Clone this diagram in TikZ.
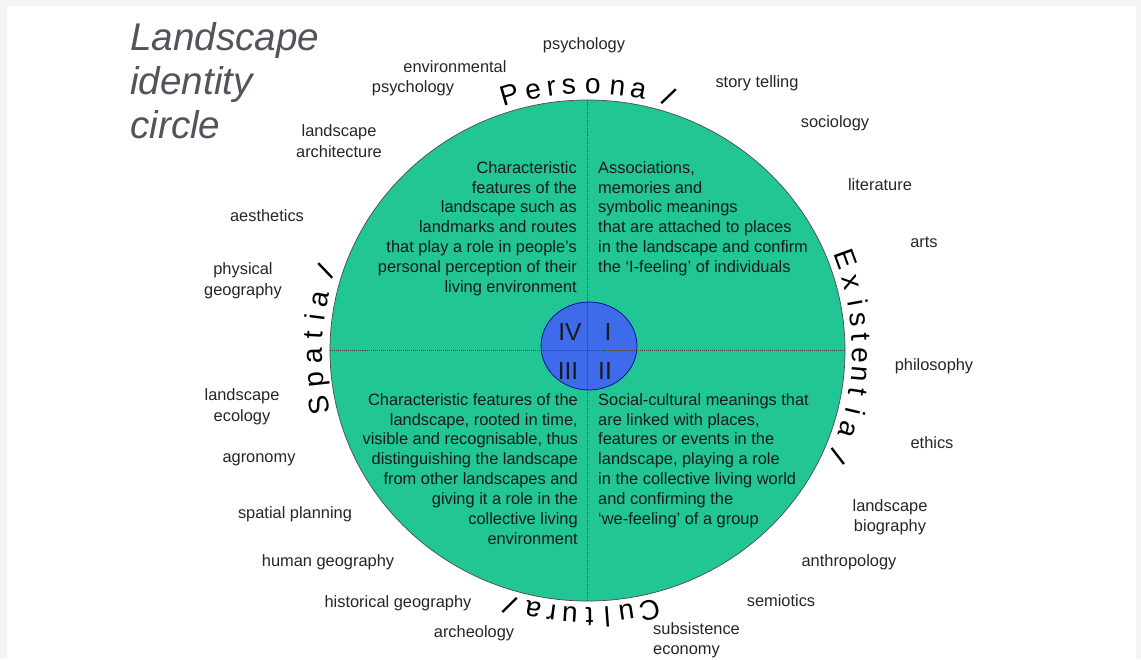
\documentclass[tikz,border=0pt]{standalone}
\usepackage{fontspec}
\setmainfont{Liberation Sans}
\usetikzlibrary{calc,shapes.geometric}
\definecolor{pagegray}{RGB}{244,244,242}
\definecolor{discgreen}{RGB}{34,197,148}
\definecolor{hubblue}{RGB}{61,107,234}
\definecolor{titlegray}{RGB}{82,84,92}

\tikzset{
  title/.style={font=\fontsize{33}{37.6}\selectfont\itshape, text=titlegray, inner sep=0pt, align=left},
  topic/.style={font=\fontsize{14}{17.5}\selectfont, text=black!85, inner sep=0pt, align=center},
  quadtext/.style={font=\fontsize{14}{17}\selectfont, text=black!90, inner sep=0pt},
  arcletter/.style={font=\fontsize{24}{24}\selectfont, anchor=base, inner sep=0pt},
  numeral/.style={font=\fontsize{21}{21}\selectfont, text=black!90, inner sep=0pt},
  disc/.style={ellipse, draw=black!70, line width=0.6pt, fill=discgreen, inner sep=0pt,
    minimum width=15.45cm, minimum height=15.03cm},
  hub/.style={ellipse, draw=blue!60!black, line width=0.6pt, fill=hubblue, inner sep=0pt,
    minimum width=2.88cm, minimum height=2.64cm},
  divider/.style={densely dotted, black!75, line width=0.7pt}
}

\begin{document}
\begin{tikzpicture}[x=0.03cm,y=0.03cm]
  \useasboundingbox (0,0) rectangle (1141,-659);
  %% ---- page ----
  \fill[pagegray] (0,0) rectangle (1141,-659);
  \fill[white] (7,-6) rectangle (1136,-659);

  %% ---- title ----
  \node[title, anchor=north west] (title) at (130,-22) {Landscape\\identity\\circle};

  %% ---- disc, hub and quadrant lines ----
  \coordinate (c) at (587.5,-350.5);
  \node[disc] (disc) at (c) {};
  \node[hub] (hub) at (589,-346) {};
  \draw[divider] (disc.north) -- (disc.south);
  \draw[divider] (disc.west) -- (disc.east);

  %% roman numerals
  \node[numeral] (nIV)  at (570,-332) {IV};
  \node[numeral] (nI)   at (608,-332) {I};
  \node[numeral] (nIII) at (568,-371) {III};
  \node[numeral] (nII)  at (605,-371) {II};

  %% ---- quadrant texts ----
  \node[quadtext, anchor=north east, align=right] (qIV) at (577,-161)
    {Characteristic\\features of the\\landscape such as\\landmarks and routes\\that play a role in people's\\personal perception of their\\living environment};
  \node[quadtext, anchor=north west, align=left] (qI) at (598,-161)
    {Associations,\\memories and\\symbolic meanings\\that are attached to places\\in the landscape and confirm\\the `I-feeling' of individuals};
  \node[quadtext, anchor=north east, align=right] (qIII) at (578,-393)
    {Characteristic features of the\\landscape, rooted in time,\\visible and recognisable, thus\\distinguishing the landscape\\from other landscapes and\\giving it a role in the\\collective living\\environment};
  \node[quadtext, anchor=north west, align=left] (qII) at (598,-393)
    {Social-cultural meanings that\\are linked with places,\\features or events in the\\landscape, playing a role\\in the collective living world\\and confirming the\\`we-feeling' of a group};

  %% ---- dimension names round the disc ----
  \foreach \ch/\a [count=\i] in {P/106.4,e/101.5,r/97.6,s/93.9,o/88.9,n/83.7,a/79.3}
    \node[arcletter, rotate=\a-90] (pers-\i) at ($(c)+(\a:265 and 257)$) {\ch};
  \node[arcletter, rotate=73.8-120] (pers-l) at ($(c)+(73.8:265 and 257)$) {l};

  \foreach \ch/\a [count=\i] in {E/20.0,x/14.9,i/10.3,s/6.7,t/2.9,e/-1.1,n/-5.1,t/-9.0,i/-13.3,a/-17.4}
    \node[arcletter, rotate=\a-90] (exis-\i) at ($(c)+(\a:265 and 257)$) {\ch};
  \node[arcletter, rotate=-22.4-120] (exis-l) at ($(c)+(-22.4:265 and 257)$) {l};

  \foreach \ch/\a [count=\i] in {C/283.1,u/278.2,l/274.1,t/270.4,u/266.3,r/262.4,a/258.5}
    \node[arcletter, rotate=\a-90] (cult-\i) at ($(c)+(\a:265 and 257)$) {\ch};
  \node[arcletter, rotate=254.7-120] (cult-l) at ($(c)+(254.7:265 and 257)$) {l};

  \foreach \ch/\a [count=\i] in {S/191.9,p/186.2,a/181.1,t/176.7,i/172.8,a/168.8}
    \node[arcletter, rotate=\a-90] (spat-\i) at ($(c)+(\a:265 and 257)$) {\ch};
  \node[arcletter, rotate=163.7-120] (spat-l) at ($(c)+(163.7:265 and 257)$) {l};

  %% ---- disciplines ----
  \foreach \name/\pos/\txt in {
      psych/{584,-45}/psychology,
      envA/{455,-67}/environmental,
      envB/{413,-88}/psychology,
      story/{757,-83}/story telling,
      socio/{835,-123}/sociology,
      lit/{880,-185}/literature,
      arts/{924,-242}/arts,
      philo/{934,-366}/philosophy,
      ethics/{932,-443}/ethics,
      landbio/{890,-517}/{landscape\\biography},
      anthro/{849,-562}/anthropology,
      semio/{781,-601}/semiotics,
      archeo/{474,-633}/archeology,
      histgeo/{398,-603}/historical geography,
      humgeo/{328,-562}/human geography,
      spatplan/{295,-514}/spatial planning,
      agro/{259,-460}/agronomy,
      landeco/{242,-407}/{landscape\\ecology},
      physgeo/{243,-281}/{physical\\geography},
      aesth/{267,-216}/aesthetics,
      landarch/{339,-141}/{landscape\\architecture}}
    \node[topic] (\name) at (\pos) {\txt};
  \node[topic, anchor=west, align=left] (subsist) at (653,-640) {subsistence\\economy};
\end{tikzpicture}
\end{document}
